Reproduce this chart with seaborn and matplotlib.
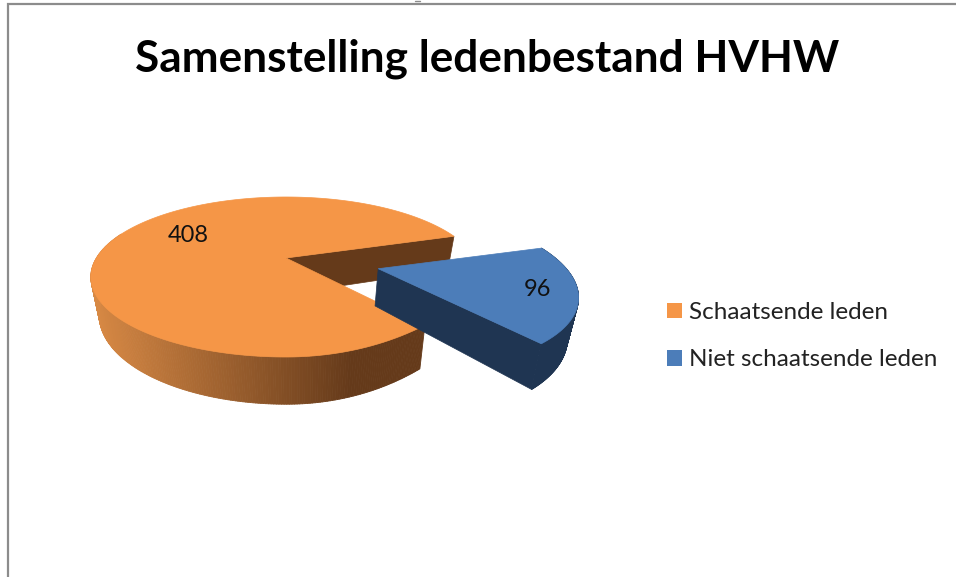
import numpy as np
import matplotlib
matplotlib.use("Agg")
import matplotlib.pyplot as plt
from matplotlib.patches import Patch
from matplotlib.collections import PolyCollection
import seaborn as sns

# --- data ---
categories = ["Schaatsende leden", "Niet schaatsende leden"]
values = [408, 96]
title = "Samenstelling ledenbestand HVHW"

# --- style ---
TOP = ["#F59647", "#4C7DB9"]
WALL_DARK = "#653A1A"
WALL_LIGHT = "#D98A45"
BLUE_WALL = "#1F3552"
FRAME = "#8C8C8C"

sns.set_theme(style="white")
plt.rcParams["font.family"] = ["Lato", "DejaVu Sans"]

fig = plt.figure(figsize=(9.56, 5.77), dpi=100, facecolor="white")
ax = fig.add_axes([0, 0, 1, 1])
ax.set_xlim(0, 956)
ax.set_ylim(577, 0)
ax.axis("off")

# --- projection of a tilted pie with perspective ---
CX, CY, RX, RY, K, DEPTH, VX, SHRINK = 286, 258, 189.6, 75.5, 0.2375, 36, 300, 0.96
EXPLODE = 0.49
START = -18.0
BLUE_RADIUS = 0.96
BLUE_TURN = 1.5
FRONT_PINCH = 0.05


def project(x, y, z=0.0):
    w = 1 / (1 - K * y)
    sx = CX + RX * x * w
    sy = CY + RY * y * w + z * DEPTH * w
    if z:
        sx = VX + (sx - VX) * SHRINK
    return np.column_stack([sx, sy])


def arc(t0, t1, ox=0.0, oy=0.0, r=1.0, pinch=0.0, n=240):
    deg = np.linspace(t0, t1, n)
    t = np.radians(deg)
    wrapped = np.mod(deg, 360)
    rad = r * (1 - pinch * np.where(wrapped < 90, np.sin(2 * t) ** 2, 0))
    return ox + rad * np.cos(t), oy + rad * np.sin(t)


def wall_quads(x, y):
    a, b = project(x, y), project(x, y, 1.0)
    return [np.array([a[i], a[i + 1], b[i + 1], b[i]]) for i in range(len(x) - 1)]


def flat_wall(x0, y0, x1, y1, color, zorder):
    ix, iy = np.array([x0, x1]), np.array([y0, y1])
    a, b = project(ix, iy), project(ix, iy, 1.0)
    ax.fill([a[0, 0], a[1, 0], b[1, 0], b[0, 0]], [a[0, 1], a[1, 1], b[1, 1], b[0, 1]],
            color=color, lw=0.5, zorder=zorder)


spans = [v / sum(values) * 360 for v in values]
blue_a0 = START
blue_a1 = START + spans[1]
orange_a0 = blue_a1
orange_a1 = blue_a1 + spans[0]
mid = np.radians((blue_a0 + blue_a1) / 2)
ox, oy = EXPLODE * np.cos(mid), EXPLODE * np.sin(mid)

# orange: back inner wall
flat_wall(0.0, 0.0, np.cos(np.radians(orange_a1)), np.sin(np.radians(orange_a1)), WALL_DARK, 1)

# orange: outer wall with horizontal gradient
x, y = arc(orange_a0, 200, pinch=FRONT_PINCH)
quads = wall_quads(x, y)
ramp = sns.blend_palette([WALL_LIGHT, WALL_DARK], 256)
cols = [ramp[int(np.clip((q[:, 0].mean() - 91) / (350 - 91), 0, 1) * 255)] for q in quads]
ax.add_collection(PolyCollection(quads, facecolors=cols, edgecolors=cols, linewidths=0.6, zorder=2))

# orange: top
x, y = arc(orange_a0, orange_a1, pinch=FRONT_PINCH)
p = project(np.r_[0, x], np.r_[0, y])
ax.fill(p[:, 0], p[:, 1], color=TOP[0], lw=0.5, zorder=3)

# blue: outer wall and straight wall from the apex to the front corner
x, y = arc(blue_a0 + BLUE_TURN, blue_a1 + BLUE_TURN, ox, oy, r=BLUE_RADIUS)
flat_wall(ox, oy, x[-1], y[-1], BLUE_WALL, 4)
ax.add_collection(PolyCollection(wall_quads(x, y), facecolors=BLUE_WALL, edgecolors=BLUE_WALL,
                                 linewidths=0.6, zorder=4))
# blue: top
p = project(np.r_[ox, x], np.r_[oy, y])
ax.fill(p[:, 0], p[:, 1], color=TOP[1], lw=0.5, zorder=5)

# data labels
ax.text(188, 235, str(values[0]), ha="center", va="center", fontsize=17, color="#111111", zorder=6)
ax.text(538, 290, str(values[1]), ha="center", va="center", fontsize=17, color="#111111", zorder=6)

# title
ax.text(487, 59, title, ha="center", va="center", fontsize=31.8, fontweight="bold", color="black")

# chart frame, and the sliver of clipped text above it
ax.plot([8, 8, 956], [577, 4, 4], color=FRAME, lw=1.6, solid_joinstyle="miter", zorder=7)
ax.plot([415, 420], [0.5, 0.5], color=FRAME, lw=1.0, zorder=7)

# legend
handles = [Patch(facecolor=c, edgecolor="none", label=l) for c, l in zip(TOP, categories)]
ax.legend(handles=handles, loc="upper left", bbox_to_anchor=(667 / 956, 1 - 302 / 577),
          bbox_transform=ax.transAxes, frameon=False, fontsize=17.5, labelcolor="#222222",
          handlelength=0.62, handleheight=0.62, handletextpad=0.29, labelspacing=1.09,
          borderpad=0, borderaxespad=0)

fig.savefig("out.png", dpi=100)
